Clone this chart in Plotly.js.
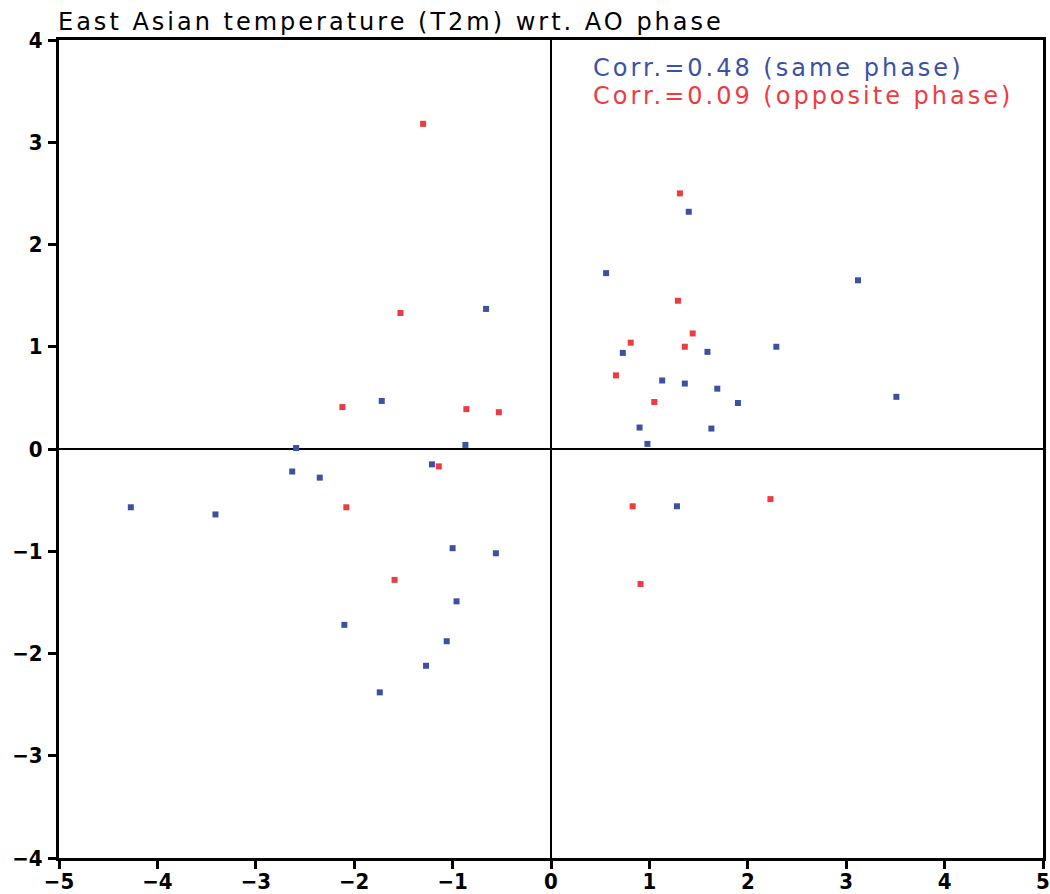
<!DOCTYPE html>
<html>
<head>
<meta charset="utf-8">
<script src="https://cdn.plot.ly/plotly-3.0.1.min.js"></script>
<style>html,body{margin:0;padding:0;background:#fff;}#chart{width:1050px;height:894px;}</style>
</head>
<body>
<div id="chart"></div>
<script>
// Same phase (blue)
const sameX = [-4.27, -3.41, -2.63, -2.59, -2.35, -1.72, -2.10, -1.74, -1.21, -0.66, -0.87, -1.00, -0.56, -0.96, -1.06, -1.27,
               0.56, 1.40, 0.73, 1.13, 1.36, 1.69, 1.59, 2.29, 1.90, 3.12, 3.51, 0.90, 0.98, 1.63, 1.28];
const sameY = [-0.57, -0.64, -0.22, 0.01, -0.28, 0.47, -1.72, -2.38, -0.15, 1.37, 0.04, -0.97, -1.02, -1.49, -1.88, -2.12,
               1.72, 2.32, 0.94, 0.67, 0.64, 0.59, 0.95, 1.00, 0.45, 1.65, 0.51, 0.21, 0.05, 0.20, -0.56];
// Opposite phase (red)
const oppX = [-1.30, -1.53, -2.12, -0.86, -0.53, -1.14, -2.08, -1.59,
              1.31, 1.29, 1.44, 0.81, 1.36, 0.66, 1.05, 0.83, 2.23, 0.91];
const oppY = [3.18, 1.33, 0.41, 0.39, 0.36, -0.17, -0.57, -1.28,
              2.50, 1.45, 1.13, 1.04, 1.00, 0.72, 0.46, -0.56, -0.49, -1.32];
const titleText = "East Asian temperature (T2m) wrt. AO phase";
const corrSame = "Corr.=0.48 (same phase)";
const corrOpp = "Corr.=0.09 (opposite phase)";
const xTicks = [-5, -4, -3, -2, -1, 0, 1, 2, 3, 4, 5];
const yTicks = [-4, -3, -2, -1, 0, 1, 2, 3, 4];

const blue = "#3a52a5";
const red = "#ef3b3f";

const traces = [
  {x: sameX, y: sameY, mode: "markers", type: "scatter",
   marker: {symbol: "square", size: 6, color: blue}, hoverinfo: "x+y"},
  {x: oppX, y: oppY, mode: "markers", type: "scatter",
   marker: {symbol: "square", size: 6, color: red}, hoverinfo: "x+y"}
];

const fmt = v => v < 0 ? "\u2212" + Math.abs(v) : String(v);
const spaced = (t, px) => '<span style="letter-spacing:' + px + 'px">' + t + '</span>';

const axisCommon = {
  showgrid: false, zeroline: true, zerolinecolor: "#000", zerolinewidth: 1.5,
  showline: true, linecolor: "#000", linewidth: 3, mirror: true,
  ticks: "outside", ticklen: 8, tickwidth: 3, tickcolor: "#000",
  tickfont: {family: "DejaVu Sans Condensed, DejaVu Sans", size: 22, color: "#000", weight: "bold"},
  fixedrange: true
};

const layout = {
  width: 1050, height: 894,
  margin: {l: 59, r: 7, t: 40, b: 36},
  paper_bgcolor: "#fff", plot_bgcolor: "#fff",
  showlegend: false,
  xaxis: Object.assign({}, axisCommon, {range: [-5, 5], tickvals: xTicks, ticktext: xTicks.map(fmt), ticklabelstandoff: -6}),
  yaxis: Object.assign({}, axisCommon, {range: [-4, 4], tickvals: yTicks, ticktext: yTicks.map(fmt), ticklabelstandoff: 1}),
  annotations: [
    {text: spaced(titleText, 3), xref: "paper", yref: "paper", x: 0, y: 1, xanchor: "left", yanchor: "bottom",
     yshift: 2, xshift: -3, showarrow: false, font: {family: "DejaVu Sans", size: 24, color: "#000"}},
    {text: spaced(corrSame, 3), xref: "paper", yref: "paper", x: 0.541, y: 0.966, xanchor: "left", yanchor: "middle",
     showarrow: false, font: {family: "DejaVu Sans", size: 24, color: blue}},
    {text: spaced(corrOpp, 3), xref: "paper", yref: "paper", x: 0.541, y: 0.932, xanchor: "left", yanchor: "middle",
     showarrow: false, font: {family: "DejaVu Sans", size: 24, color: red}}
  ]
};

Plotly.newPlot("chart", traces, layout, {displayModeBar: false, staticPlot: true});
</script>
</body>
</html>
